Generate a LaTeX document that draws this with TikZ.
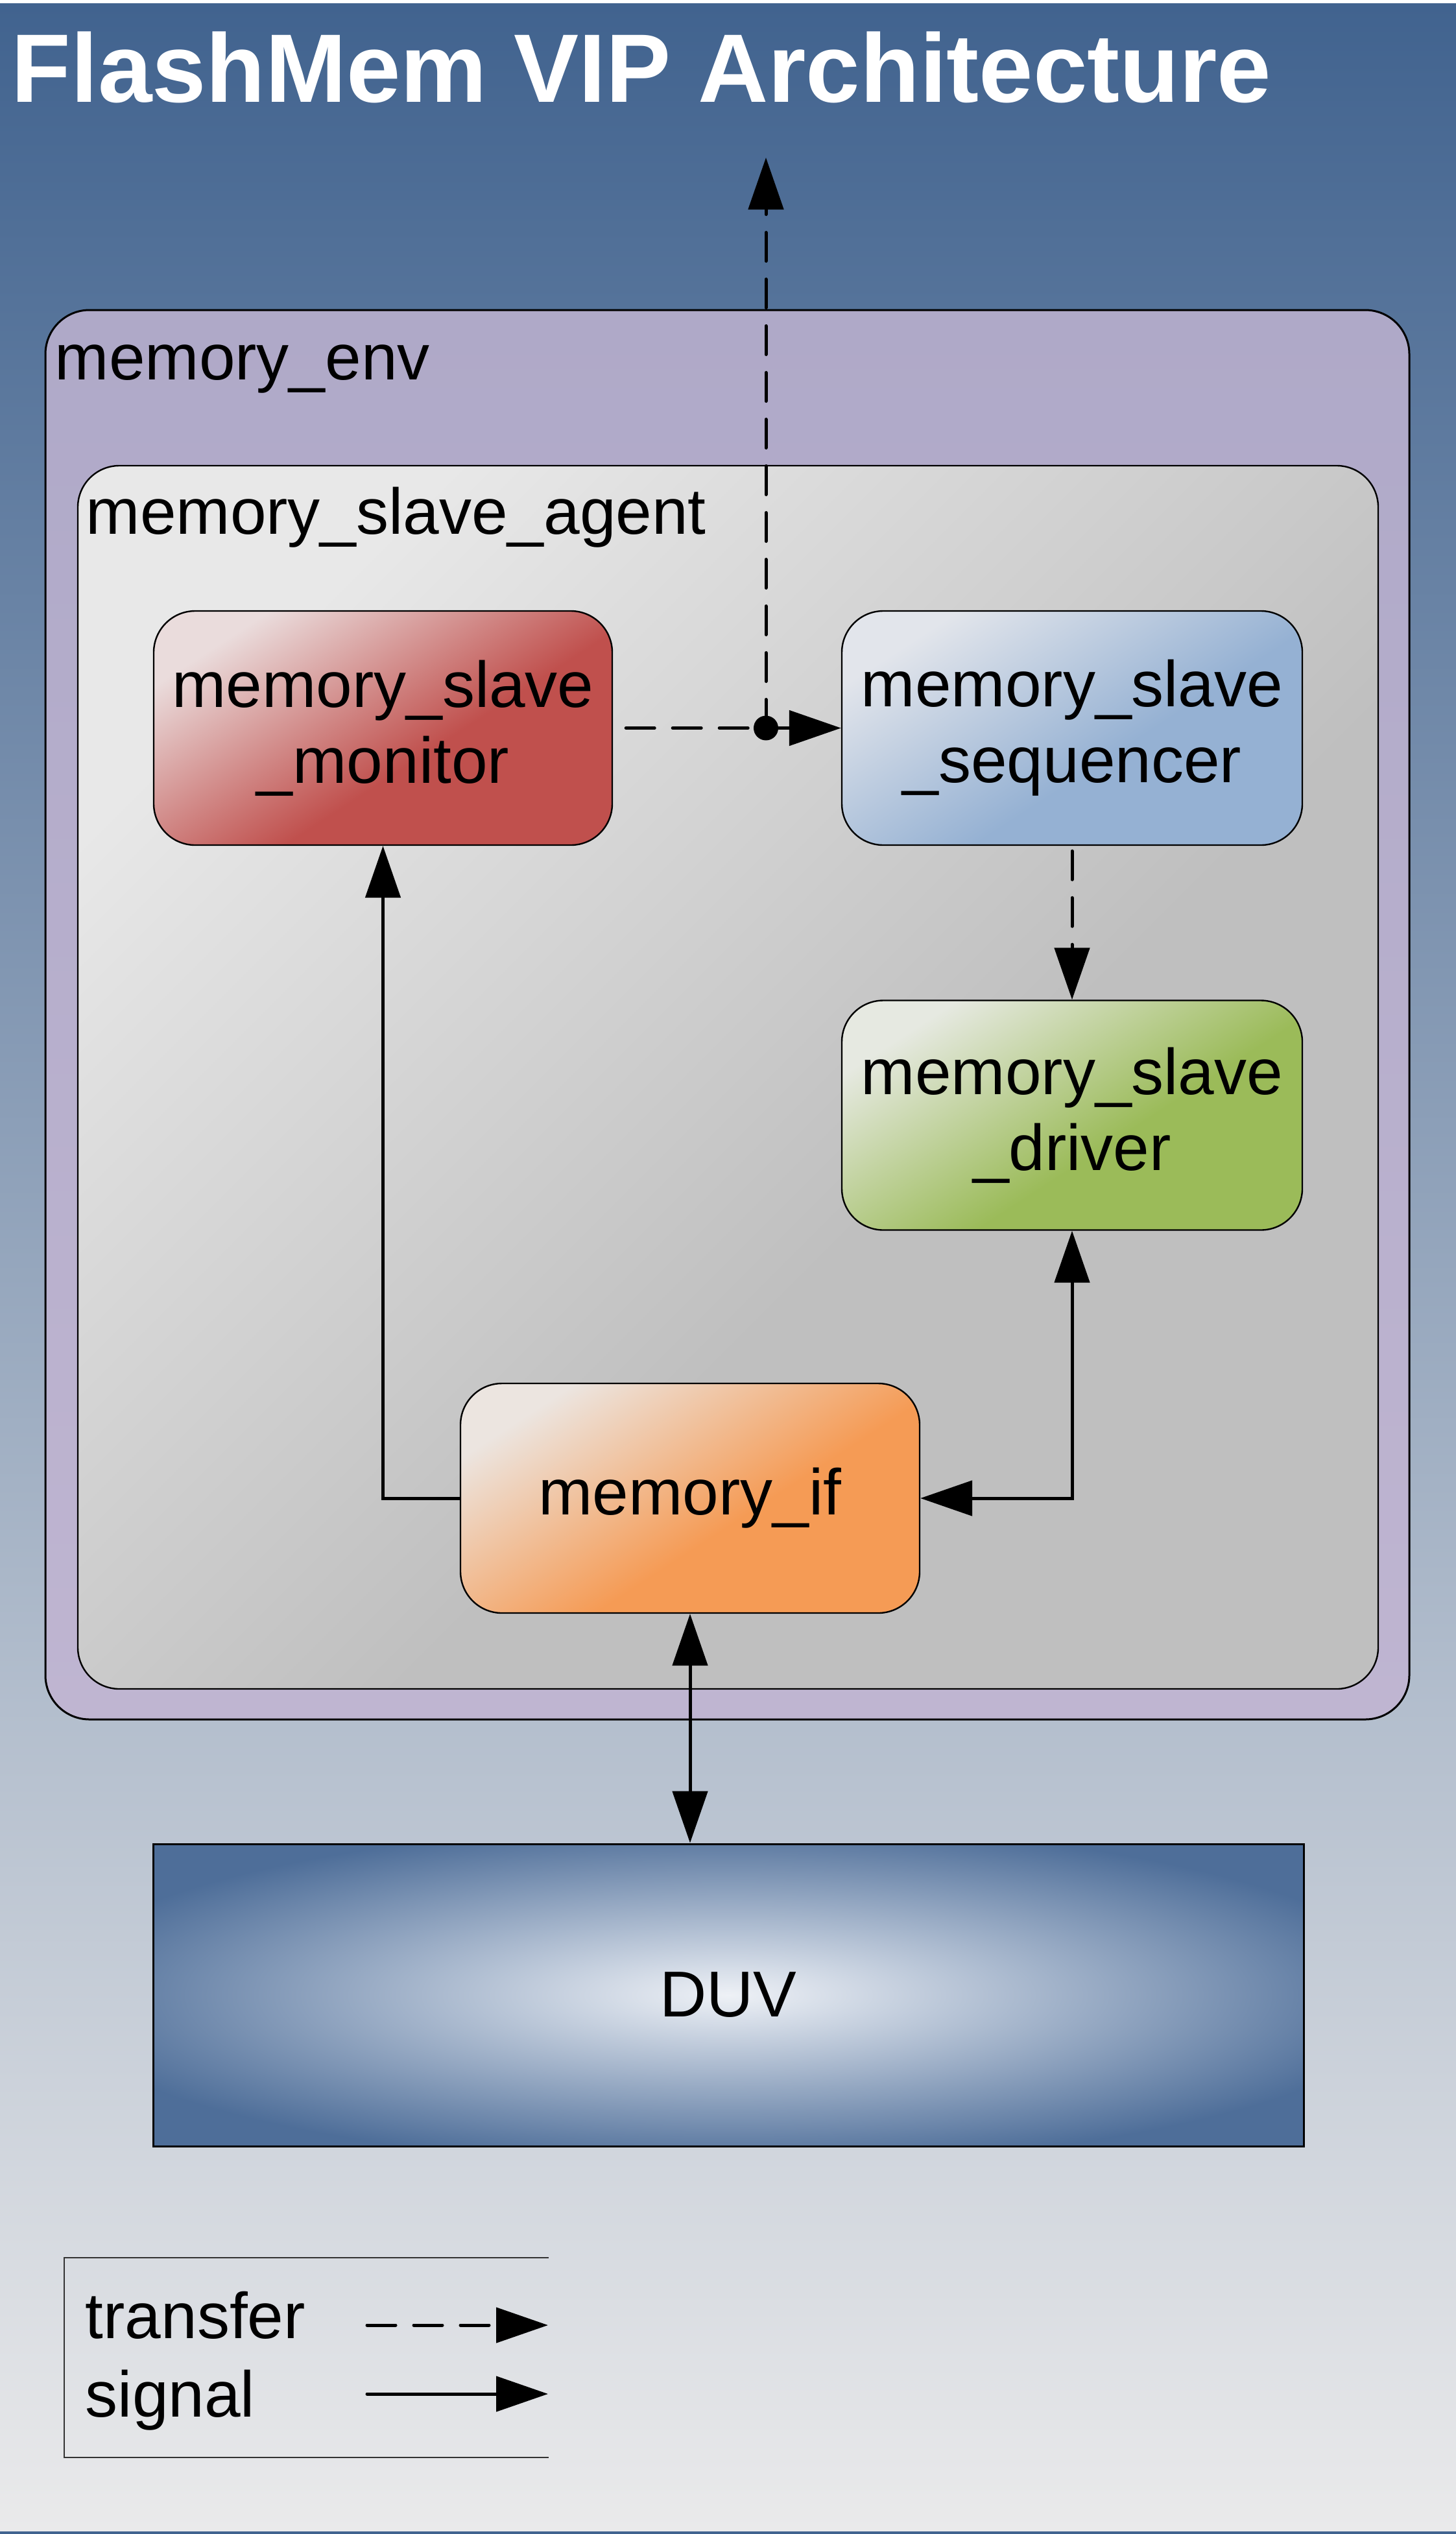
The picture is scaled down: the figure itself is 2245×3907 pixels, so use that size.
\documentclass[tikz,border=0pt]{standalone}
\usepackage{fontspec}
\setmainfont{Liberation Sans}
\usetikzlibrary{arrows.meta}
\definecolor{bgtop}{HTML}{41638F}
\definecolor{bgbot}{HTML}{EAEAEB}
\definecolor{envtop}{HTML}{AFA9C8}
\definecolor{envbot}{HTML}{BFB5D1}
\definecolor{agL}{HTML}{E8E8E8}
\definecolor{agD}{HTML}{BFBFBF}
\definecolor{monL}{HTML}{EADCDC}
\definecolor{monD}{HTML}{C0504D}
\definecolor{seqL}{HTML}{E2E5EB}
\definecolor{seqD}{HTML}{95B1D3}
\definecolor{drvL}{HTML}{E6E9E1}
\definecolor{drvD}{HTML}{9BBB59}
\definecolor{mifL}{HTML}{ECE5E0}
\definecolor{mifD}{HTML}{F59B55}
\definecolor{duvIn}{HTML}{EEF1F6}
\definecolor{duvOut}{HTML}{4E6E99}
\definecolor{legline}{HTML}{333333}
\newcommand\mkboxshade[3]{%
  \pgfdeclarehorizontalshading{#1}{100bp}{color(0bp)=(#2); color(25bp)=(#2); color(57bp)=(#3); color(100bp)=(#3)}}
\mkboxshade{monshade}{monL}{monD}
\mkboxshade{seqshade}{seqL}{seqD}
\mkboxshade{drvshade}{drvL}{drvD}
\mkboxshade{mifshade}{mifL}{mifD}
\pgfdeclarehorizontalshading{agshade}{100bp}{color(0bp)=(agL); color(25bp)=(agL); color(58bp)=(agD); color(100bp)=(agD)}
\begin{document}
\begin{tikzpicture}[x=0.25pt,y=-0.25pt,
  boxfont/.style={font=\fontsize{25pt}{29.25pt}\selectfont},
  box/.style={draw=black, line width=0.6pt, rounded corners=16pt, inner sep=0pt,
    align=center, boxfont, shade, shading angle=-57},
  signal/.style={line width=1.25pt, -{Triangle[length=20pt,width=13.5pt]}},
  transfer/.style={signal, dash pattern=on 11pt off 7pt, line cap=round},
  twoway/.style={line width=1.25pt, {Triangle[length=20pt,width=13.5pt]}-{Triangle[length=20pt,width=13.5pt]}}
]
\useasboundingbox (0,0) rectangle (2245,3907);
% background
\fill[white] (0,0) rectangle (2245,3907);
\shade[top color=bgtop, bottom color=bgbot] (0,6) rectangle (2245,3903);
\fill[bgtop] (0,3903) rectangle (2245,3907);
% title
\node[anchor=base west, inner sep=0pt, text=white,
  font=\fontsize{37.5pt}{45pt}\selectfont\bfseries] (title) at (17,158) {FlashMem VIP Architecture};
% containers
\node[draw=black, line width=0.75pt, rounded corners=17pt, inner sep=0pt,
  minimum width=525.75pt, minimum height=543.25pt,
  top color=envtop, bottom color=envbot] (env) at (1121.5,1564.5) {};
\node[anchor=base west, inner sep=0pt, boxfont] (envlabel) at (84,585) {memory\_env};
\node[draw=black, line width=0.6pt, rounded corners=16pt, inner sep=0pt,
  minimum width=501.25pt, minimum height=471.5pt,
  shade, shading=agshade, shading angle=-45] (agent) at (1122.5,1661) {};
\node[anchor=base west, inner sep=0pt, boxfont] (agentlabel) at (132,823) {memory\_slave\_agent};
% components
\node[box, shading=monshade, minimum width=176.75pt, minimum height=90.25pt] (mon) at (590.5,1122.5) {memory\_slave\\\_monitor};
\node[box, shading=seqshade, minimum width=177.5pt, minimum height=90.25pt] (seq) at (1653,1122.5) {memory\_slave\\\_sequencer};
\node[box, shading=drvshade, minimum width=177.5pt, minimum height=88.5pt] (drv) at (1653,1719.5) {memory\_slave\\\_driver};
\node[box, shading=mifshade, minimum width=177pt, minimum height=88.5pt] (mif) at (1064,2310) {memory\_if};
\node[draw=black, line width=0.75pt, inner sep=0pt, fill=duvOut, boxfont,
  minimum width=443.5pt, minimum height=116.5pt,
  path picture={\shade[inner color=duvIn, outer color=duvOut] (path picture bounding box.center) ellipse [x radius=265pt, y radius=66pt];}] (duv) at (1123,3076) {DUV};
% connectors
\coordinate (dot) at (1181,1122.5);
\coordinate (up) at (1181,243);
\draw[transfer, shorten <=5pt] (mon.east) -- (seq.west);
\draw[transfer] (dot) -- (up);
\fill (dot) circle[radius=4.75pt];
\draw[transfer, shorten <=2pt] (seq.south) -- (drv.north);
\draw[signal] (mif.west) -| (mon.south);
\draw[twoway] (drv.south) |- (mif.east);
\draw[twoway] (mif.south) -- (mif.south |- duv.north);
% legend
\draw[legline, line width=0.5pt] (846,3481) -- (99,3481) -- (99,3789) -- (846,3789);
\node[anchor=base west, inner sep=0pt, boxfont] (ltransfer) at (131,3605) {transfer};
\node[anchor=base west, inner sep=0pt, boxfont] (lsignal) at (131,3726) {signal};
\coordinate (lt1) at (566,3585);
\coordinate (lt2) at (845,3585);
\coordinate (ls1) at (566,3691);
\coordinate (ls2) at (845,3691);
\draw[transfer] (lt1) -- (lt2);
\draw[signal, line cap=round] (ls1) -- (ls2);
\end{tikzpicture}
\end{document}
